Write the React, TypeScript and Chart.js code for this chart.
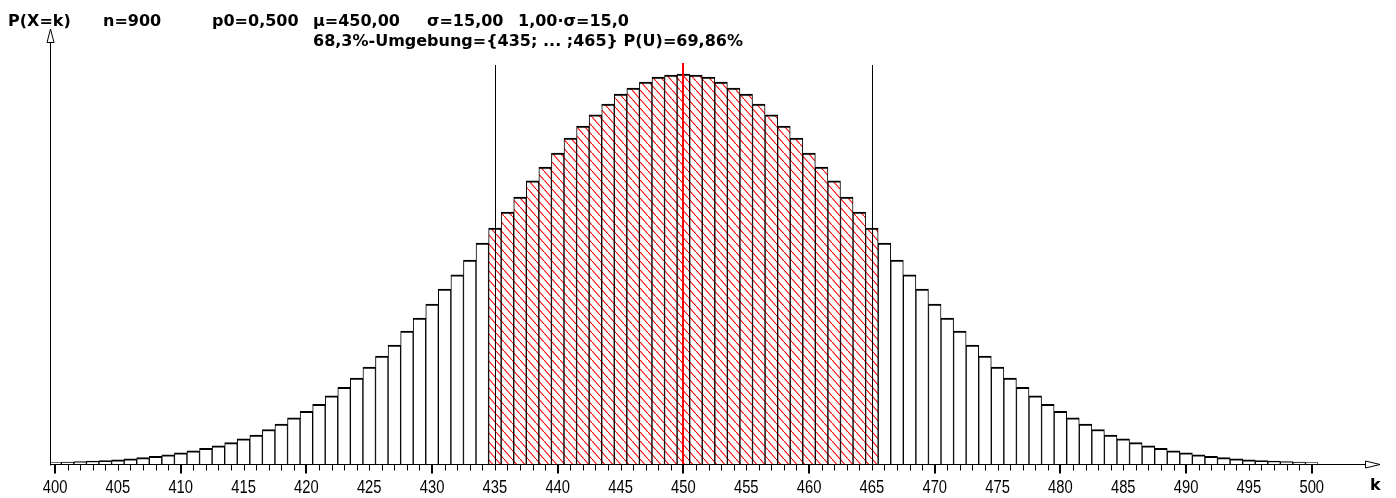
import React, { useEffect, useRef } from "react";
import { Chart, registerables } from "chart.js";

Chart.register(...registerables);

// k values (categories)
const K_VALUES = [
  400, 401, 402, 403, 404, 405, 406, 407, 408, 409,
  410, 411, 412, 413, 414, 415, 416, 417, 418, 419,
  420, 421, 422, 423, 424, 425, 426, 427, 428, 429,
  430, 431, 432, 433, 434, 435, 436, 437, 438, 439,
  440, 441, 442, 443, 444, 445, 446, 447, 448, 449,
  450, 451, 452, 453, 454, 455, 456, 457, 458, 459,
  460, 461, 462, 463, 464, 465, 466, 467, 468, 469,
  470, 471, 472, 473, 474, 475, 476, 477, 478, 479,
  480, 481, 482, 483, 484, 485, 486, 487, 488, 489,
  490, 491, 492, 493, 494, 495, 496, 497, 498, 499,
  500,
];

// P(X=k)
const P_VALUES = [
  0.0001, 0.00013, 0.00016, 0.0002, 0.00024, 0.00029, 0.00036, 0.00044, 0.00053, 0.00063,
  0.00076, 0.0009, 0.00106, 0.00124, 0.00146, 0.00171, 0.00198, 0.00235, 0.00273, 0.00314,
  0.00359, 0.00407, 0.00464, 0.00522, 0.00586, 0.00661, 0.00736, 0.00811, 0.00907, 0.00995,
  0.01091, 0.01193, 0.01289, 0.01391, 0.01507, 0.01609, 0.01718, 0.0182, 0.0193, 0.02025,
  0.0212, 0.02223, 0.02304, 0.0238, 0.02454, 0.02523, 0.02564, 0.02604, 0.02639, 0.02652,
  0.02659, 0.02652, 0.02639, 0.02604, 0.02564, 0.02523, 0.02454, 0.0238, 0.02304, 0.02223,
  0.0212, 0.02025, 0.0193, 0.0182, 0.01718, 0.01609, 0.01507, 0.01391, 0.01289, 0.01193,
  0.01091, 0.00995, 0.00907, 0.00811, 0.00736, 0.00661, 0.00586, 0.00522, 0.00464, 0.00407,
  0.00359, 0.00314, 0.00273, 0.00235, 0.00198, 0.00171, 0.00146, 0.00124, 0.00106, 0.0009,
  0.00076, 0.00063, 0.00053, 0.00044, 0.00036, 0.00029, 0.00024, 0.0002, 0.00016, 0.00013,
  0.0001,
];

const X_TICK_LABELS = [
  "400", "405", "410", "415", "420", "425", "430", "435", "440", "445", "450",
  "455", "460", "465", "470", "475", "480", "485", "490", "495", "500",
];

const U_FROM = 435;
const U_TO = 465;
const MU = 450;

const HEADER_ROW1 = [
  { text: "P(X=k)", x: 8 },
  { text: "n=900", x: 103 },
  { text: "p0=0,500", x: 212 },
  { text: "μ=450,00", x: 313 },
  { text: "σ=15,00", x: 427 },
  { text: "1,00·σ=15,0", x: 518 },
];
const HEADER_ROW2 = "68,3%-Umgebung={435; ... ;465} P(U)=69,86%";
const X_AXIS_TITLE = "k";

function makeHatch(): CanvasPattern | string {
  const c = document.createElement("canvas");
  const w = 8;
  const h = 9;
  c.width = w;
  c.height = h;
  const g = c.getContext("2d");
  if (!g) return "#fff";
  g.fillStyle = "#ffffff";
  g.fillRect(0, 0, w, h);
  g.strokeStyle = "#ff0000";
  g.lineWidth = 1.1;
  g.beginPath();
  g.moveTo(-w, -h);
  g.lineTo(2 * w, 2 * h);
  g.stroke();
  const p = g.createPattern(c, "repeat");
  return p || "#fff";
}

export default function App() {
  const ref = useRef<HTMLCanvasElement | null>(null);

  useEffect(() => {
    const canvas = ref.current;
    if (!canvas) return;
    const hatch = makeHatch();

    const decor = {
      id: "decor",
      afterDatasetsDraw(chart: any) {
        const { ctx, chartArea } = chart;
        const xs = chart.scales.x;
        const ys = chart.scales.y;
        const y0 = Math.round(ys.getPixelForValue(0)) + 0.5;
        const ax = Math.round(chartArea.left) + 0.5;
        ctx.save();
        ctx.lineWidth = 1;

        // boundary lines of the neighbourhood
        ctx.strokeStyle = "#000";
        [U_FROM, U_TO].forEach((k) => {
          const px = Math.round(xs.getPixelForValue(k)) + 0.5;
          ctx.beginPath();
          ctx.moveTo(px, 65);
          ctx.lineTo(px, y0);
          ctx.stroke();
        });
        // mean line
        ctx.fillStyle = "#ff0000";
        {
          const px = Math.round(xs.getPixelForValue(MU));
          ctx.fillRect(px - 1, 63, 2, y0 - 63);
        }

        // axes
        ctx.strokeStyle = "#000";
        const xArrowTip = chartArea.right;
        const xArrowBase = xArrowTip - 15;
        ctx.beginPath();
        ctx.moveTo(ax, y0);
        ctx.lineTo(xArrowBase, y0);
        ctx.stroke();
        ctx.beginPath();
        ctx.moveTo(xArrowBase + 0.5, y0 - 3.5);
        ctx.lineTo(xArrowTip, y0);
        ctx.lineTo(xArrowBase + 0.5, y0 + 3.5);
        ctx.closePath();
        ctx.fillStyle = "#fff";
        ctx.fill();
        ctx.stroke();

        const yArrowTip = chartArea.top;
        const yArrowBase = yArrowTip + 14;
        ctx.beginPath();
        ctx.moveTo(ax, y0 + 1);
        ctx.lineTo(ax, yArrowBase);
        ctx.stroke();
        ctx.beginPath();
        ctx.moveTo(ax - 3.5, yArrowBase - 0.5);
        ctx.lineTo(ax, yArrowTip);
        ctx.lineTo(ax + 3.5, yArrowBase - 0.5);
        ctx.closePath();
        ctx.fill();
        ctx.stroke();

        // ticks
        K_VALUES.forEach((k) => {
          const big = k % 10 === 0;
          const px = xs.getPixelForValue(k);
          if (big) {
            ctx.fillStyle = "#000";
            ctx.fillRect(Math.round(px) - 1, y0, 2, 9);
          } else {
            const p = Math.round(px) + 0.5;
            ctx.beginPath();
            ctx.moveTo(p, y0);
            ctx.lineTo(p, y0 + 6);
            ctx.stroke();
          }
        });

        // tick labels
        ctx.fillStyle = "#000";
        ctx.textAlign = "center";
        ctx.textBaseline = "alphabetic";
        X_TICK_LABELS.forEach((lab) => {
          const px = xs.getPixelForValue(Number(lab));
          ctx.save();
          ctx.translate(px, 493);
          ctx.scale(0.82, 1);
          ctx.font = '18px "Liberation Sans", Arial, sans-serif';
          ctx.fillText(lab, 0, 0);
          ctx.restore();
        });

        // texts
        ctx.textAlign = "left";
        ctx.font = 'bold 16px "DejaVu Sans", sans-serif';
        HEADER_ROW1.forEach((h) => ctx.fillText(h.text, h.x, 26));
        ctx.fillText(HEADER_ROW2, 313, 46);
        ctx.fillText(X_AXIS_TITLE, 1370, 490);
        ctx.restore();
      },
    };

    const chart = new Chart(canvas, {
      type: "bar",
      data: {
        datasets: [
          {
            data: K_VALUES.map((k, i) => ({ x: k, y: P_VALUES[i] })),
            backgroundColor: K_VALUES.map((k) =>
              k >= U_FROM && k <= U_TO ? hatch : "#ffffff"
            ) as any,
            borderColor: "#000000",
            borderWidth: { top: 2, left: 1, right: 1, bottom: 0 },
            borderSkipped: false,
            barPercentage: 1,
            categoryPercentage: 1,
          },
        ],
      },
      options: {
        responsive: false,
        animation: false,
        devicePixelRatio: 1,
        layout: { padding: { left: 50, right: 16, top: 29, bottom: 34 } },
        plugins: {
          legend: { display: false },
          title: { display: false },
          tooltip: { enabled: false },
        },
        scales: {
          x: {
            type: "linear",
            min: 399.6,
            max: 505.43,
            offset: false,
            display: false,
            grid: { offset: false },
          },
          y: { min: 0, max: 0.02966, display: false },
        },
      },
      plugins: [decor],
    });
    return () => chart.destroy();
  }, []);

  return (
    <div style={{ position: "fixed", left: 0, top: 0, width: 1396, height: 498, background: "#fff" }}>
      <canvas ref={ref} width={1396} height={498} style={{ display: "block" }} />
    </div>
  );
}
